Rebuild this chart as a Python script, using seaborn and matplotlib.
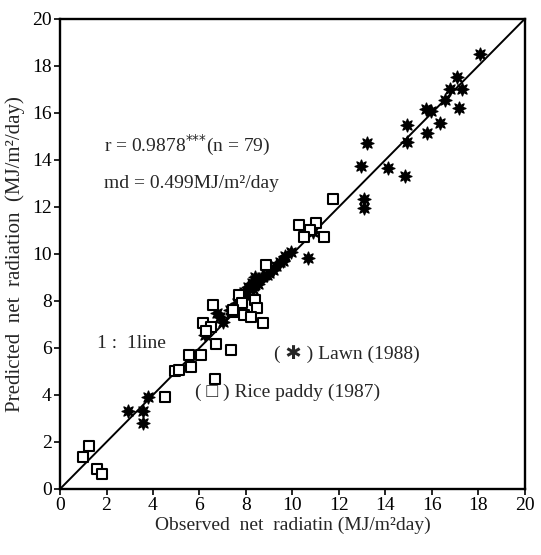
import numpy as np
import pandas as pd
import matplotlib
matplotlib.use("Agg")
import matplotlib.pyplot as plt
import seaborn as sns

# observed / predicted net radiation, MJ/m2/day
rice_obs = [0.99, 1.25, 1.57, 1.80, 4.50, 4.95, 5.10, 5.62, 5.55, 6.08, 6.72, 7.37,
            6.57, 6.14, 6.50, 7.43, 7.70, 7.93, 6.67, 8.85, 7.82, 7.46, 8.40, 8.47,
            8.23, 8.72, 11.75, 10.30, 11.00, 10.74, 10.50, 11.36, 6.30]
rice_pred = [1.37, 1.83, 0.84, 0.64, 3.90, 5.00, 5.06, 5.20, 5.69, 5.69, 6.17, 5.91,
             7.83, 7.05, 6.90, 7.54, 8.26, 7.40, 4.67, 9.53, 7.90, 7.62, 8.04, 7.69,
             7.33, 7.08, 12.33, 11.23, 11.30, 11.02, 10.71, 10.71, 6.70]

lawn_obs = [2.93, 3.55, 3.55, 3.79, 6.22, 6.74, 8.25, 13.08, 13.08, 10.90, 10.67,
            9.95, 9.66, 9.45, 9.16, 8.37, 15.74, 14.95, 16.36, 15.81, 14.92, 13.23,
            12.97, 14.13, 14.84, 18.09, 17.08, 16.79, 17.30, 16.58, 17.16, 15.95,
            7.30, 7.60, 7.80, 7.90, 8.00, 8.10, 8.30, 8.40, 8.50, 8.70, 8.90, 9.00,
            9.30, 9.60, 7.00, 6.90]
lawn_pred = [3.33, 3.33, 2.82, 3.90, 6.55, 7.48, 8.75, 12.33, 11.97, 10.95, 9.82,
             10.10, 9.89, 9.67, 9.32, 9.03, 16.16, 15.49, 15.56, 15.16, 14.78, 14.71,
             13.74, 13.67, 13.32, 18.51, 17.54, 17.01, 17.01, 16.55, 16.20, 16.10,
             7.60, 7.90, 8.10, 8.40, 8.20, 8.60, 8.50, 8.90, 8.70, 9.00, 9.10, 9.20,
             9.50, 9.70, 7.10, 7.30]

ticks = list(range(0, 21, 2))
lims = [0, 20]

rice = pd.DataFrame({"obs": rice_obs, "pred": rice_pred})
lawn = pd.DataFrame({"obs": lawn_obs, "pred": lawn_pred})

sns.set_style("ticks")
plt.rcParams["font.family"] = ["Liberation Serif", "DejaVu Sans"]

fig = plt.figure(figsize=(5.41, 5.55), dpi=100)
ax = fig.add_axes([0.111, 0.119, 0.859, 0.847])

# 1:1 line
ax.plot(lims, lims, color="black", lw=1.4, zorder=1)

sns.scatterplot(data=rice, x="obs", y="pred", ax=ax, marker="s", s=58,
                facecolor="white", edgecolor="black", linewidth=1.5, zorder=3)
sns.scatterplot(data=lawn, x="obs", y="pred", ax=ax, marker=(8, 1, 0), s=85,
                color="black", edgecolor="black", linewidth=1.0, zorder=2)

ax.set_xlim(lims)
ax.set_ylim(lims)
ax.set_xticks(ticks)
ax.set_yticks(ticks)
ax.tick_params(direction="out", length=4, width=1.2, labelsize=14, pad=2,
               colors="black")
for sp in ax.spines.values():
    sp.set_visible(True)
    sp.set_linewidth(1.7)
    sp.set_color("black")

ax.set_xlabel("Observed  net  radiatin (MJ/m\u00b2day)", fontsize=14, labelpad=2)
ax.set_ylabel("Predicted  net  radiation  (MJ/m\u00b2/day)", fontsize=15, labelpad=5)

# annotations
ax.text(1.9, 14.6, "r = 0.9878$^{{*}{*}{*}}$(n = 79)", fontsize=14, va="center")
ax.text(1.9, 13.0, "md = 0.499MJ/m\u00b2/day", fontsize=14, va="center")
ax.text(1.6, 6.2, "1 :  1line", fontsize=14, va="center")
ax.text(9.2, 5.75, "( \u2731 ) Lawn (1988)", fontsize=14, va="center")
ax.text(5.8, 4.1, "( \u25a1 ) Rice paddy (1987)", fontsize=14, va="center")

fig.savefig("out.png", dpi=100)
